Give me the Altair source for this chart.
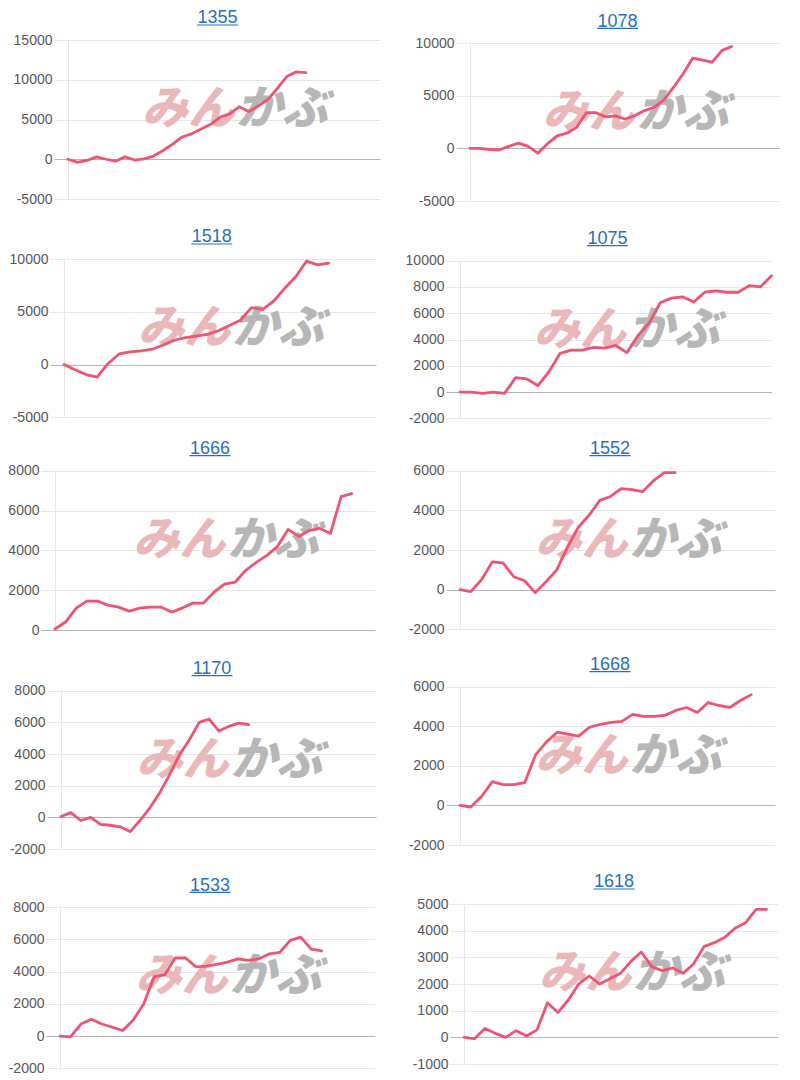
import altair as alt
import pandas as pd

# ---------------- data ----------------
titles = ["1355", "1078", "1518", "1075", "1666", "1552", "1170", "1668", "1533", "1618"]

values_1355 = [0, -400, -150, 300, 0, -250, 300, -100, 50, 400, 1100, 1900, 2800, 3200,
               3800, 4400, 5300, 5700, 6600, 6000, 6700, 7500, 8900, 10400, 11000, 10900]
values_1078 = [0, 0, -100, -150, 200, 500, 200, -450, 450, 1200, 1450, 2000, 3400, 3400,
               3000, 3100, 2800, 3100, 3600, 3900, 4600, 5800, 7100, 8600, 8400, 8200, 9300, 9700]
values_1518 = [0, -500, -950, -1200, 100, 1000, 1200, 1300, 1450, 1850, 2300, 2550, 2700,
               2850, 3200, 3700, 4200, 5400, 5200, 6000, 7200, 8300, 9800, 9450, 9600]
values_1075 = [0, 0, -100, 0, -100, 1100, 1000, 500, 1550, 2950, 3200, 3200, 3400, 3350,
               3550, 3000, 4300, 5250, 6800, 7150, 7250, 6850, 7600, 7700, 7600, 7600, 8100,
               8000, 8850]
values_1666 = [50, 400, 1100, 1450, 1450, 1250, 1150, 950, 1100, 1150, 1150, 900, 1100, 1350,
               1350, 1900, 2300, 2400, 3000, 3400, 3750, 4200, 5050, 4700, 5000, 5100, 4850,
               6700, 6850]
values_1552 = [0, -100, 500, 1400, 1350, 650, 450, -150, 400, 1000, 2150, 3150, 3750, 4500,
               4700, 5100, 5050, 4950, 5500, 5900, 5900]
values_1170 = [50, 300, -200, 0, -450, -500, -600, -900, -200, 600, 1550, 2700, 3950, 4900,
               6000, 6200, 5450, 5750, 5950, 5850]
values_1668 = [0, -80, 450, 1200, 1050, 1050, 1150, 2550, 3200, 3700, 3600, 3500, 3950, 4100,
               4200, 4250, 4600, 4500, 4500, 4550, 4800, 4950, 4700, 5200, 5050, 4950, 5300, 5600]
values_1533 = [0, -50, 750, 1050, 750, 550, 350, 1000, 2000, 3700, 3800, 4850, 4850, 4300,
               4350, 4450, 4600, 4800, 4700, 4800, 5100, 5200, 5950, 6150, 5400, 5300]
values_1618 = [0, -50, 330, 150, 0, 250, 50, 280, 1300, 930, 1400, 2000, 2300, 2000, 2200,
               2400, 2850, 3200, 2650, 2500, 2600, 2400, 2750, 3400, 3550, 3750, 4100, 4300,
               4800, 4800]

series = [values_1355, values_1078, values_1518, values_1075, values_1666,
          values_1552, values_1170, values_1668, values_1533, values_1618]

y_ticks = [
    [-5000, 0, 5000, 10000, 15000],
    [-5000, 0, 5000, 10000],
    [-5000, 0, 5000, 10000],
    [-2000, 0, 2000, 4000, 6000, 8000, 10000],
    [0, 2000, 4000, 6000, 8000],
    [-2000, 0, 2000, 4000, 6000],
    [-2000, 0, 2000, 4000, 6000, 8000],
    [-2000, 0, 2000, 4000, 6000],
    [-2000, 0, 2000, 4000, 6000, 8000],
    [-1000, 0, 1000, 2000, 3000, 4000, 5000],
]
# x extent of each panel, in data points
x_domain_end = [32.8, 32.0, 28.3, 28.0, 30.2, 29.3, 31.9, 29.2, 30.1, 30.1]

# ---------------- layout / style (pixels) ----------------
row_top = [0, 215, 430, 645, 860]
row_height = [215, 215, 215, 215, 220]
plot_left = [68, 470, 64, 460, 55, 460, 61, 460, 60, 464]
plot_width = [312, 310, 312, 311.5, 320, 315, 315, 315, 315, 314]
plot_top = [40, 43.3, 259, 260.7, 470.7, 470.7, 690.7, 686.7, 907.3, 904]
plot_height = [159, 157.7, 158.3, 157.7, 159.3, 158.6, 158.3, 158.3, 161, 160]
title_center = [217.5, 617.5, 211.7, 607.5, 210, 610, 212, 610, 210, 614]

LINE = "#ef5470"
GRID = "#e6e6e6"
ZERO = "#b4b4b4"
TITLE = "#2a70c0"
LABEL = "#585858"
FONT = "Liberation Sans"


def panel(i):
    r = i // 2
    vals = series[i]
    df = pd.DataFrame({"idx": list(range(len(vals))), "value": vals})
    W, H = plot_width[i], plot_height[i]
    box_left = 0 if i % 2 == 0 else plot_left[i - 1] + plot_width[i - 1]
    dx = plot_left[i] - box_left
    dy = plot_top[i] - row_top[r]
    box_w = dx + W
    box_h = row_height[r]
    yt = y_ticks[i]
    tx = title_center[i] - box_left

    x = alt.X("idx:Q",
              scale=alt.Scale(domain=[0, x_domain_end[i]], range=[dx, dx + W],
                              nice=False, zero=False),
              axis=None)
    y = alt.Y("value:Q",
              scale=alt.Scale(domain=[yt[0], yt[-1]], range=[dy + H, dy],
                              nice=False, zero=False),
              axis=alt.Axis(values=yt, labelExpr="'' + datum.value", title=None,
                            offset=-dx, grid=True,
                            gridColor={"condition": {"test": "datum.value === 0", "value": ZERO},
                                       "value": GRID},
                            tickColor={"condition": {"test": "datum.value === 0", "value": ZERO},
                                       "value": GRID},
                            tickSize=14, tickWidth=1, gridWidth=1, labelPadding=2,
                            labelFont=FONT, labelFontSize=14, labelColor=LABEL,
                            labelOverlap=False, labelFlush=False,
                            domain=True, domainColor=GRID))

    one = alt.Chart(pd.DataFrame({"k": [0]}))
    wm_x = dx + W * 0.535
    wm1 = one.mark_text(text="みん", font="Noto Sans CJK JP", fontSize=46, fontWeight=900,
                        fontStyle="italic", color="#ebb8ba", align="right",
                        baseline="middle").encode(x=alt.value(wm_x - 1), y=alt.value(dy + 70))
    wm2 = one.mark_text(text="かぶ", font="Noto Sans CJK JP", fontSize=46, fontWeight=900,
                        fontStyle="italic", color="#b7b7b7", align="left",
                        baseline="middle").encode(x=alt.value(wm_x + 1), y=alt.value(dy + 70))
    line = alt.Chart(df).mark_line(color=LINE, strokeWidth=2.8, strokeJoin="round",
                                   strokeCap="round").encode(x=x, y=y)
    title = one.mark_text(text=titles[i], font=FONT, fontSize=18, color=TITLE, align="center",
                          baseline="alphabetic").encode(x=alt.value(tx), y=alt.value(dy - 16.7))
    underline = one.mark_rule(color=TITLE, strokeWidth=1.2).encode(
        x=alt.value(tx - 20.5), x2=alt.value(tx + 20.5), y=alt.value(dy - 15))
    return alt.layer(wm1, wm2, line, title, underline).properties(width=box_w, height=box_h)


rows = [alt.hconcat(panel(2 * r), panel(2 * r + 1), spacing=0) for r in range(5)]
chart = alt.vconcat(*rows, spacing=0).properties(
    padding=0, background="white"
).configure_view(strokeWidth=0)

chart.save("out.html", embed_options={"renderer": "svg", "actions": False})
